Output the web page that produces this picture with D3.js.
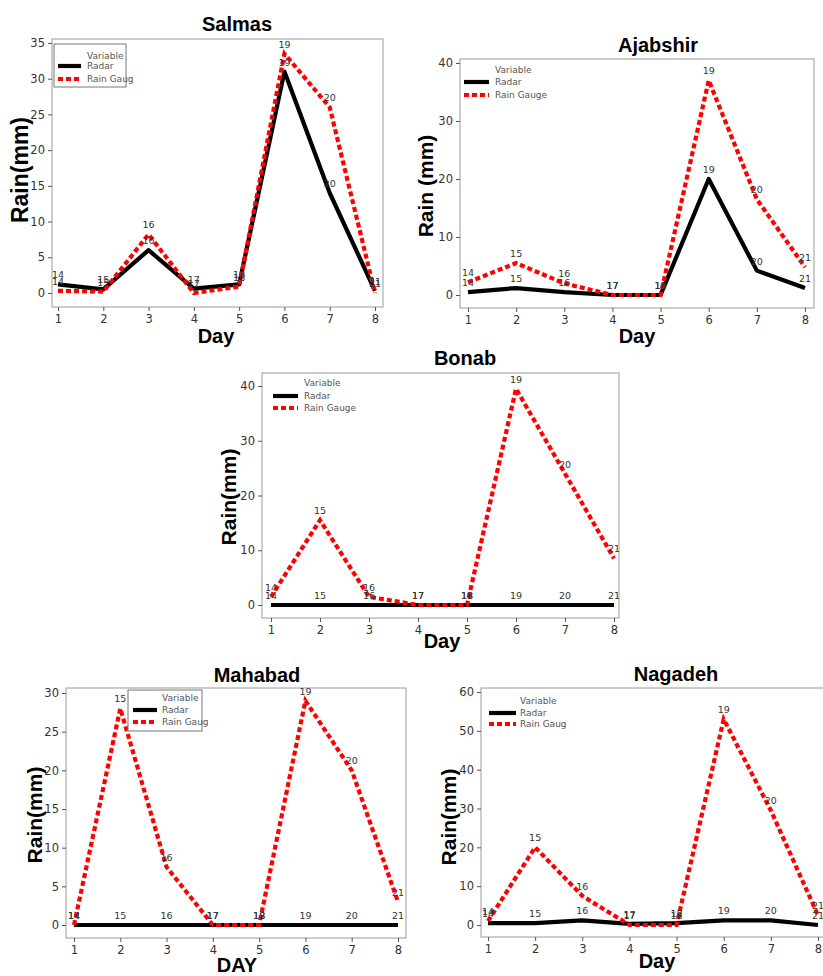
<!DOCTYPE html>
<html>
<head>
<meta charset="utf-8">
<script src="https://cdn.jsdelivr.net/npm/d3@7"></script>
<style>
  html, body { margin: 0; padding: 0; background: #fff; }
  svg { display: block; }
</style>
</head>
<body>
<svg id="chart" width="823" height="976"></svg>
<script>
// ---------- data ----------
const days = [1, 2, 3, 4, 5, 6, 7, 8];
const pointLabels = ["14", "15", "16", "17", "18", "19", "20", "21"];
const seriesNames = ["Radar", "Rain Gauge"];

const salmasRadar   = [1.2, 0.5, 6.0, 0.6, 1.2, 31.0, 14.0, 0.3];
const salmasGauge   = [0.3, 0.2, 8.2, 0.0, 0.9, 33.5, 26.0, 0.0];
const ajabshirRadar = [0.5, 1.2, 0.5, 0.0, 0.0, 20.0, 4.2, 1.2];
const ajabshirGauge = [2.2, 5.5, 2.0, 0.0, 0.0, 37.0, 16.5, 4.8];
const bonabRadar    = [0, 0, 0, 0, 0, 0, 0, 0];
const bonabGauge    = [1.5, 15.5, 1.5, 0.0, 0.0, 39.5, 24.0, 8.5];
const mahabadRadar  = [0, 0, 0, 0, 0, 0, 0, 0];
const mahabadGauge  = [0.0, 28.0, 7.5, 0.0, 0.0, 29.0, 20.0, 3.0];
const nagadehRadar  = [0.5, 0.5, 1.2, 0.3, 0.5, 1.2, 1.2, 0.0];
const nagadehGauge  = [1.0, 20.0, 7.5, 0.0, 0.0, 53.0, 29.5, 2.5];

const salmasTicks   = [0, 5, 10, 15, 20, 25, 30, 35];
const ajabshirTicks = [0, 10, 20, 30, 40];
const bonabTicks    = [0, 10, 20, 30, 40];
const mahabadTicks  = [0, 5, 10, 15, 20, 25, 30];
const nagadehTicks  = [0, 10, 20, 30, 40, 50, 60];

// ---------- layout ----------
const panels = [
  { title: "Salmas", radar: salmasRadar, gauge: salmasGauge, ticks: salmasTicks,
    frame: [52, 39, 383, 307], xr: [58, 375], yr: [293, 43],
    titlePos: [237, 31], xTitle: "Day", xTitlePos: [216, 343],
    yTitle: "Rain(mm)", yTitlePos: [28, 170], yTitleSize: 23,
    legend: { box: [54, 44, 126, 87], lineX: [58, 81], textX: 87, yVar: 56, yR: 66, yG: 79, gaugeLabel: "Rain Gaug" } },
  { title: "Ajabshir", radar: ajabshirRadar, gauge: ajabshirGauge, ticks: ajabshirTicks,
    frame: [460, 59, 814, 308], xr: [468, 805], yr: [295, 63],
    titlePos: [658, 52], xTitle: "Day", xTitlePos: [637, 343],
    yTitle: "Rain (mm)", yTitlePos: [433, 186], yTitleSize: 21,
    legend: { box: null, lineX: [464, 489], textX: 495, yVar: 70, yR: 82, yG: 95, gaugeLabel: "Rain Gauge" } },
  { title: "Bonab", radar: bonabRadar, gauge: bonabGauge, ticks: bonabTicks,
    frame: [262, 373, 619, 618], xr: [271, 614], yr: [605, 386],
    titlePos: [465, 365], xTitle: "Day", xTitlePos: [442, 648],
    yTitle: "Rain(mm)", yTitlePos: [236, 497], yTitleSize: 21,
    legend: { box: null, lineX: [273, 298], textX: 304, yVar: 383, yR: 396, yG: 408, gaugeLabel: "Rain Gauge" } },
  { title: "Mahabad", radar: mahabadRadar, gauge: mahabadGauge, ticks: mahabadTicks,
    frame: [66, 688, 406, 938], xr: [74, 398], yr: [925, 693],
    titlePos: [257, 682], xTitle: "DAY", xTitlePos: [237, 972],
    yTitle: "Rain(mm)", yTitlePos: [42, 815], yTitleSize: 21,
    legend: { box: [128, 690, 202, 731], lineX: [133, 157], textX: 162, yVar: 698, yR: 710, yG: 722, gaugeLabel: "Rain Gaug" } },
  { title: "Nagadeh", radar: nagadehRadar, gauge: nagadehGauge, ticks: nagadehTicks,
    frame: [481, 688, 830, 937], xr: [488, 818], yr: [925, 692],
    titlePos: [676, 681], xTitle: "Day", xTitlePos: [657, 968],
    yTitle: "Rain(mm)", yTitlePos: [456, 817], yTitleSize: 21,
    legend: { box: null, lineX: [489, 516], textX: 520, yVar: 701, yR: 713, yG: 724, gaugeLabel: "Rain Gaug" } }
];

const svg = d3.select("#chart");
const FONT = "'Liberation Sans', Arial, sans-serif";
const TICKFONT = "'DejaVu Sans', Verdana, sans-serif";
const RED = "#ff0000";

panels.forEach(p => {
  const g = svg.append("g");
  const x = d3.scaleLinear().domain([1, 8]).range(p.xr);
  const y = d3.scaleLinear().domain([0, d3.max(p.ticks)]).range(p.yr);
  const [fx0, fy0, fx1, fy1] = p.frame;

  // frame
  g.append("rect").attr("x", fx0).attr("y", fy0)
    .attr("width", fx1 - fx0).attr("height", fy1 - fy0)
    .attr("fill", "#fff").attr("stroke", "#9a9a9a").attr("stroke-width", 1);

  // axes
  const yAxis = d3.axisLeft(y).tickValues(p.ticks).tickFormat(d3.format("d")).tickSize(4).tickPadding(3);
  const yG = g.append("g").attr("transform", `translate(${fx0},0)`).call(yAxis);
  yG.select(".domain").remove();
  const xAxis = d3.axisBottom(x).tickValues(days).tickFormat(d3.format("d")).tickSize(4).tickPadding(4);
  const xG = g.append("g").attr("transform", `translate(0,${fy1})`).call(xAxis);
  xG.select(".domain").remove();
  [yG, xG].forEach(a => {
    a.selectAll("line").attr("stroke", "#555");
    a.selectAll("text").attr("font-family", TICKFONT).attr("font-size", 11.5).attr("fill", "#333");
  });

  // lines
  const line = d3.line().x((d, i) => x(days[i])).y(d => y(d));
  g.append("path").datum(p.radar).attr("d", line)
    .attr("fill", "none").attr("stroke", "#000").attr("stroke-width", 4.2)
    .attr("stroke-linejoin", "round");
  g.append("path").datum(p.gauge).attr("d", line)
    .attr("fill", "none").attr("stroke", RED).attr("stroke-width", 4.2)
    .attr("stroke-dasharray", "5,3");

  // point labels
  [p.radar, p.gauge].forEach(arr => {
    g.append("g").selectAll("text").data(arr).join("text")
      .attr("x", (d, i) => x(days[i]))
      .attr("y", d => y(d) - 6)
      .attr("text-anchor", "middle")
      .attr("font-family", TICKFONT).attr("font-size", 9.5).attr("fill", "#333")
      .text((d, i) => pointLabels[i]);
  });

  // legend
  const L = p.legend;
  if (L.box) {
    g.append("rect").attr("x", L.box[0]).attr("y", L.box[1])
      .attr("width", L.box[2] - L.box[0]).attr("height", L.box[3] - L.box[1])
      .attr("fill", "#fff").attr("stroke", "#777").attr("stroke-width", 1);
  }
  g.append("text").attr("x", L.textX).attr("y", L.yVar + 3)
    .attr("font-family", TICKFONT).attr("font-size", 9).attr("fill", "#555").text("Variable");
  g.append("line").attr("x1", L.lineX[0]).attr("x2", L.lineX[1]).attr("y1", L.yR).attr("y2", L.yR)
    .attr("stroke", "#000").attr("stroke-width", 4.2);
  g.append("text").attr("x", L.textX).attr("y", L.yR + 3)
    .attr("font-family", TICKFONT).attr("font-size", 9).attr("fill", "#555").text(seriesNames[0]);
  g.append("line").attr("x1", L.lineX[0]).attr("x2", L.lineX[1]).attr("y1", L.yG).attr("y2", L.yG)
    .attr("stroke", RED).attr("stroke-width", 4.2).attr("stroke-dasharray", "5,3");
  g.append("text").attr("x", L.textX).attr("y", L.yG + 3)
    .attr("font-family", TICKFONT).attr("font-size", 9).attr("fill", "#555").text(L.gaugeLabel);

  // titles
  g.append("text").attr("x", p.titlePos[0]).attr("y", p.titlePos[1])
    .attr("text-anchor", "middle").attr("font-family", FONT).attr("font-weight", "bold")
    .attr("font-size", 20).attr("fill", "#000").text(p.title);
  g.append("text").attr("x", p.xTitlePos[0]).attr("y", p.xTitlePos[1])
    .attr("text-anchor", "middle").attr("font-family", FONT).attr("font-weight", "bold")
    .attr("font-size", 20).attr("fill", "#000").text(p.xTitle);
  g.append("text")
    .attr("transform", `translate(${p.yTitlePos[0]},${p.yTitlePos[1]}) rotate(-90)`)
    .attr("text-anchor", "middle").attr("font-family", FONT).attr("font-weight", "bold")
    .attr("font-size", p.yTitleSize).attr("fill", "#000").text(p.yTitle);
});
</script>
</body>
</html>
